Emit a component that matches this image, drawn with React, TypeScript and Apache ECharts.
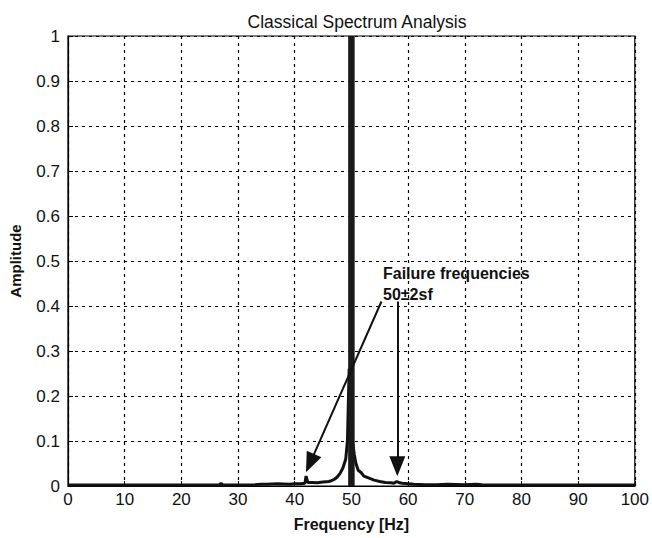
import React, { useEffect, useRef } from "react";
import * as echarts from "echarts";

const titleText = "Classical Spectrum Analysis";
const xName = "Frequency [Hz]";
const yName = "Amplitude";
const annotationLines = ["Failure frequencies", "50±2sf"];

// Spectrum trace (frequency in Hz, amplitude)
const freqs = [0, 26.7, 27, 27.3, 30, 33, 34, 35, 37, 39, 40, 41, 41.8, 42, 42.3, 43, 44, 45, 46, 46.5, 47, 47.5, 48, 48.5, 49, 49.3, 49.6, 49.8, 50, 50.2, 50.5, 50.8, 51.2, 51.7, 52.2, 53, 54, 55, 56, 57, 57.5, 58, 58.5, 59, 60, 61, 63, 65, 67, 70, 72, 73, 75, 80, 90, 100];
const amps = [0.002, 0.002, 0.006, 0.002, 0.002, 0.003, 0.004, 0.004, 0.005, 0.004, 0.005, 0.005, 0.006, 0.022, 0.008, 0.008, 0.007, 0.009, 0.01, 0.012, 0.015, 0.02, 0.028, 0.04, 0.06, 0.1, 0.26, 0.26, 0.2, 0.1, 0.07, 0.05, 0.035, 0.03, 0.022, 0.018, 0.013, 0.01, 0.008, 0.007, 0.006, 0.01, 0.007, 0.006, 0.005, 0.004, 0.003, 0.003, 0.004, 0.003, 0.004, 0.003, 0.002, 0.002, 0.002, 0.002];

// Dominant supply frequency line
const mainFreq = 50;
const mainAmp = 1.0;

// Arrow annotations (arrowhead centre): [fromFreq, fromAmp, toFreq, toAmp]
const arrows = [
  [55.3, 0.41, 42.7, 0.051],
  [58.1, 0.41, 58.1, 0.044],
];

const xMin = 0, xMax = 100, xStep = 10;
const yMin = 0, yMax = 1, yStep = 0.1;

export default function App() {
  const ref = useRef<HTMLDivElement>(null);
  useEffect(() => {
    if (!ref.current) return;
    const chart = echarts.init(ref.current, null, { renderer: "svg" });
    const font = "'Liberation Sans', Arial, sans-serif";
    chart.setOption({
      animation: false,
      backgroundColor: "#fff",
      textStyle: { fontFamily: font, color: "#000" },
      title: {
        text: titleText,
        left: 352,
        textAlign: "center",
        top: 8,
        textStyle: { fontFamily: font, fontSize: 17.5, fontWeight: "normal", color: "#111" },
      },
      grid: {
        left: 67, right: 14, top: 36, bottom: 52,
        show: true, borderColor: "#000", borderWidth: 1.2, backgroundColor: "transparent",
      },
      xAxis: {
        type: "value", min: xMin, max: xMax, interval: xStep,
        name: xName, nameLocation: "middle", nameGap: 30,
        nameTextStyle: { fontFamily: font, fontSize: 16, fontWeight: "bold", color: "#111" },
        axisLine: { show: true, onZero: false, lineStyle: { color: "#000", width: 1.2 } },
        axisTick: { show: true, inside: true, length: 5, lineStyle: { color: "#000" } },
        axisLabel: { fontFamily: font, fontSize: 17, color: "#111", margin: 5 },
        splitLine: { show: true, lineStyle: { color: "#000", type: [3, 4], width: 1.2 } },
      },
      yAxis: {
        type: "value", min: yMin, max: yMax, interval: yStep,
        name: yName, nameLocation: "middle", nameGap: 45, nameRotate: 90,
        nameTextStyle: { fontFamily: font, fontSize: 15, fontWeight: "bold", color: "#111" },
        axisLine: { show: true, lineStyle: { color: "#000", width: 1.2 } },
        axisTick: { show: true, inside: true, length: 5, lineStyle: { color: "#000" } },
        axisLabel: {
          fontFamily: font, fontSize: 17, color: "#111", margin: 8,
          formatter: (v: number) => (Math.abs(v) < 1e-9 ? "0" : Math.abs(v - 1) < 1e-9 ? "1" : v.toFixed(1)),
        },
        splitLine: { show: true, lineStyle: { color: "#000", type: [3, 4], width: 1.2 } },
      },
      series: [
        {
          type: "line",
          data: freqs.map((f, i) => [f, amps[i]]),
          symbol: "none",
          lineStyle: { color: "#111", width: 3 },
          z: 3,
          markLine: {
            silent: true,
            symbol: ["none", "triangle"],
            symbolSize: [16, 20],
            label: { show: false },
            itemStyle: { color: "#111" },
            lineStyle: { color: "#111", width: 2, type: "solid" },
            data: arrows.map((a) => [{ coord: [a[0], a[1]] }, { coord: [a[2], a[3]] }]),
          },
        },
        {
          type: "line",
          data: [[mainFreq, 0], [mainFreq, mainAmp]],
          symbol: "none",
          lineStyle: { color: "#1a1a1a", width: 6.5 },
          z: 4,
        },
      ],
      graphic: [
        {
          type: "text",
          left: 383,
          top: 263,
          style: {
            text: annotationLines.join("\n"),
            font: `bold 16px ${font}`,
            lineHeight: 21,
            fill: "#111",
          },
        },
      ],
    });
    return () => chart.dispose();
  }, []);
  return (
    <div
      ref={ref}
      style={{ position: "fixed", left: 0, top: 0, width: 652, height: 538, background: "#fff" }}
    />
  );
}
